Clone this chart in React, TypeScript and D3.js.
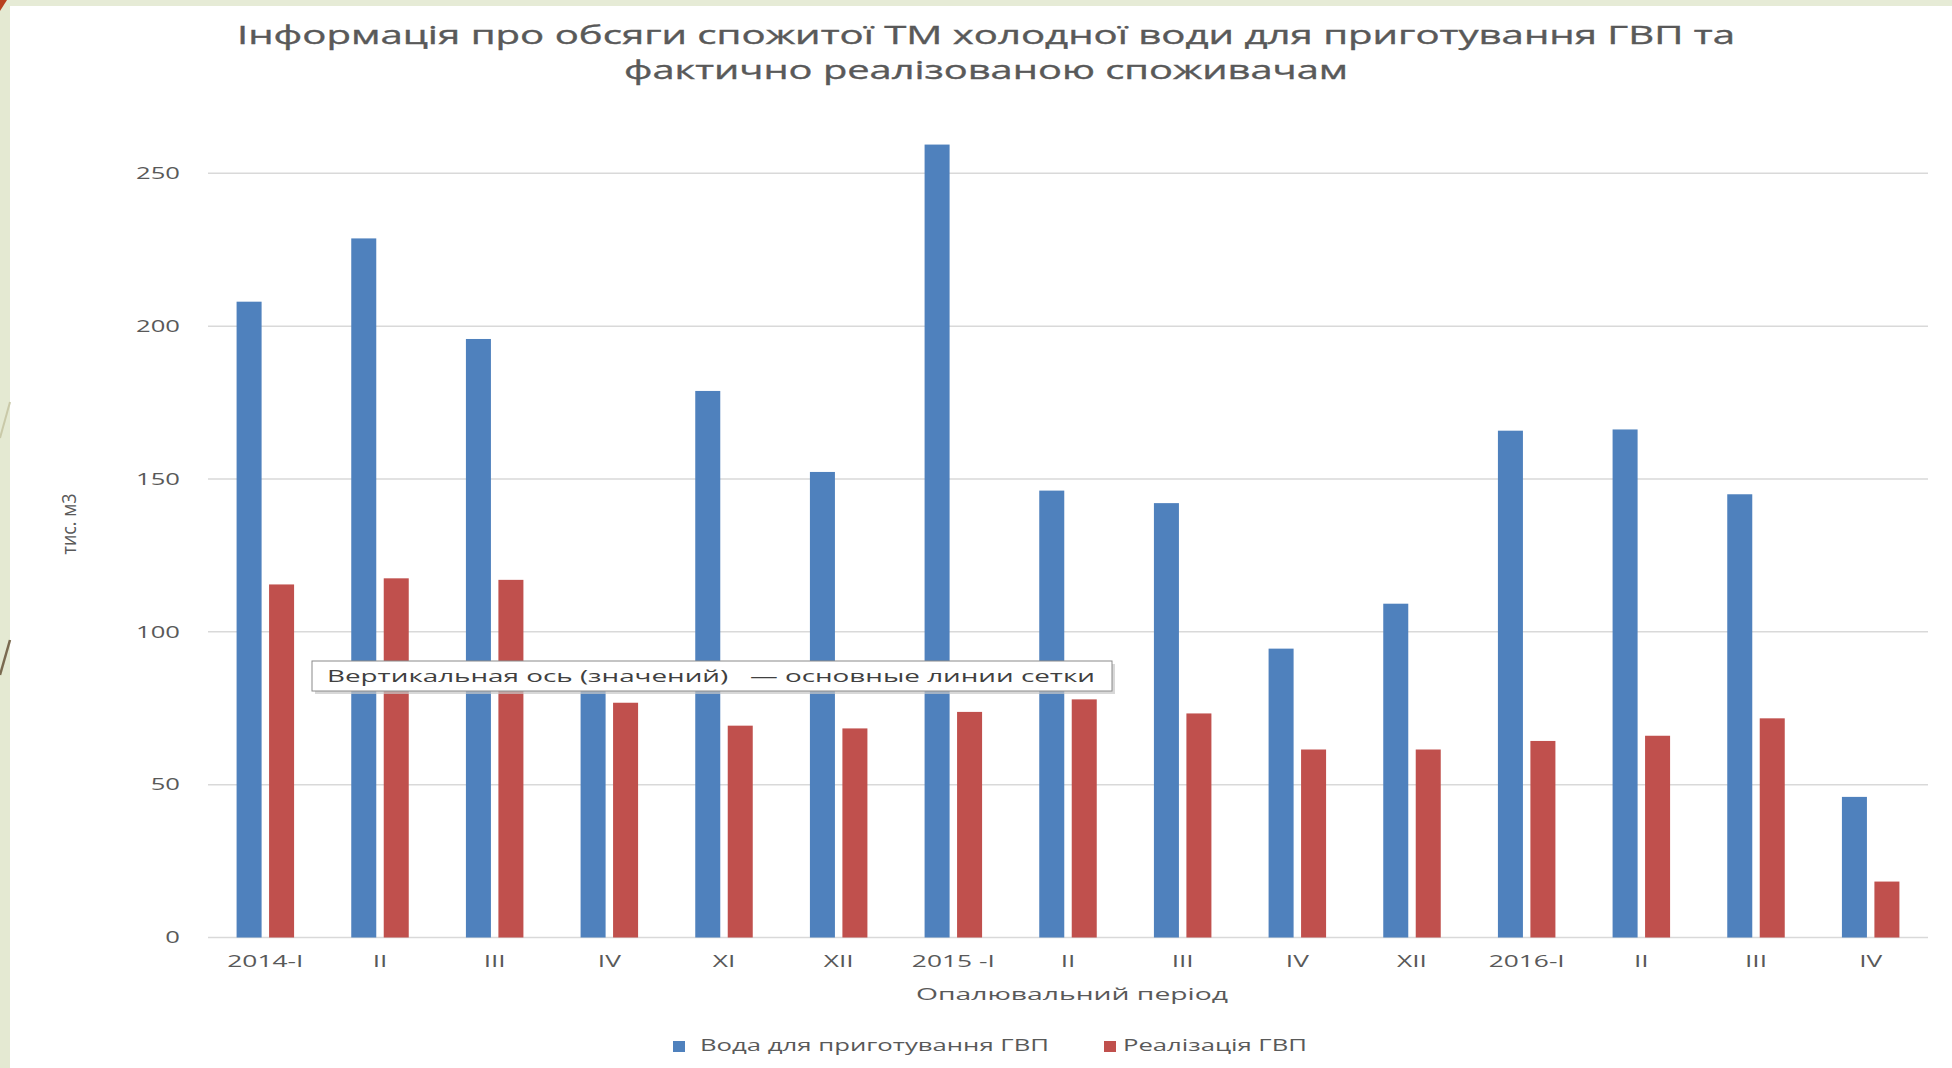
import React from "react";
import * as d3 from "d3";

const categories = ["2014-I", "II", "III", "IV", "XI", "XII", "2015 -I", "II ", "III ", "IV ", "XII ", "2016-I", "II  ", "III  ", "IV  "];
const waterForHotWater = [208, 228.7, 195.8, 86, 178.8, 152.3, 259.4, 146.2, 142.1, 94.5, 109.2, 165.8, 166.2, 145, 46];
const hotWaterSold = [115.5, 117.5, 117, 76.8, 69.3, 68.4, 73.8, 77.9, 73.3, 61.5, 61.5, 64.3, 66, 71.7, 18.3];
const seriesNames = ["Вода для приготування ГВП", "Реалізація ГВП"];
const yTicks = [0, 50, 100, 150, 200, 250];
const titleLines = [
  "Інформація про обсяги спожитої ТМ холодної води для приготування ГВП та",
  "фактично реалізованою споживачам",
];
const yAxisTitle = "тис. м3";
const xAxisTitle = "Опалювальний період";
const tooltipText = "Вертикальная ось (значений)   — основные линии сетки";

const W = 1952;
const H = 1068;
const FONT = "'Open Sans', 'Noto Sans', sans-serif";
const TEXT = "#595959";
const COLORS = ["#4f81bd", "#c0504d"];
const SX = 1.7;

export default function App() {
  const x0 = d3.scaleBand<string>().domain(categories.map((c, i) => i + "")).range([208, 1928]).padding(0);
  const x1 = d3.scaleBand<string>().domain(["a", "b"]).range([0, x0.bandwidth()]).paddingInner(0.23).paddingOuter(0.88);
  const y = d3.scaleLinear().domain([0, 250]).range([937.5, 173.3]);
  const series = [waterForHotWater, hotWaterSold];

  return (
    <svg width={W} height={H} style={{ position: "absolute", left: 0, top: 0, background: "#fff" }} fontFamily={FONT}>
      <rect x={0} y={0} width={W} height={H} fill="#ffffff" />
      {/* slide frame */}
      <rect x={0} y={0} width={W} height={6} fill="#e6ebd6" />
      <rect x={0} y={0} width={10} height={H} fill="#e4e9d2" />
      <polygon points="0,0 7,0 0,11" fill="#b8401e" />
      <line x1={0} y1={438} x2={10} y2={402} stroke="#c9c9a8" strokeWidth={2} />
      <line x1={0} y1={675} x2={10} y2={640} stroke="#7a6a50" strokeWidth={2.5} />

      {/* title */}
      {titleLines.map((t, i) => (
        <text key={i} x={986} y={44 + i * 35} textAnchor="middle" fontSize={25} fill={TEXT}
          stroke={TEXT} strokeWidth={0.35}
          textLength={i === 0 ? 1498 : 724} lengthAdjust="spacingAndGlyphs">{t}</text>
      ))}

      {/* gridlines */}
      {yTicks.map((t) => (
        <line key={t} x1={208} x2={1928} y1={y(t)} y2={y(t)} stroke="#d9d9d9" strokeWidth={1.5} />
      ))}
      {/* y tick labels */}
      {yTicks.map((t) => (
        <g key={"l" + t} transform={`translate(180,${y(t)}) scale(1.6,1)`}>
          <text x={0} y={0} dy="0.36em" textAnchor="end" fontSize={16} fill={TEXT}>{t}</text>
        </g>
      ))}

      {/* bars */}
      {categories.map((c, i) => (
        <g key={"c" + i} transform={`translate(${x0(i + "")},0)`}>
          {series.map((s, j) => (
            <rect key={j} x={x1(j === 0 ? "a" : "b")} y={y(s[i])} width={x1.bandwidth()} height={y(0) - y(s[i])} fill={COLORS[j]} />
          ))}
        </g>
      ))}

      {/* x labels */}
      {categories.map((c, i) => (
        <g key={"x" + i} transform={`translate(${(x0(i + "") as number) + x0.bandwidth() / 2},967) scale(${SX},1)`}>
          <text x={0} y={0} textAnchor="middle" fontSize={15.5} fill={TEXT}>{c.trim()}</text>
        </g>
      ))}

      {/* axis titles */}
      <text x={1072} y={1000} textAnchor="middle" fontSize={16.5} fill={TEXT} textLength={312} lengthAdjust="spacingAndGlyphs">{xAxisTitle}</text>
      <g transform={`translate(76,524) scale(1.5,1) rotate(-90)`}>
        <text x={0} y={0} textAnchor="middle" fontSize={13} fill={TEXT} textLength={61} lengthAdjust="spacingAndGlyphs">{yAxisTitle}</text>
      </g>

      {/* legend */}
      <rect x={673} y={1041} width={12} height={11} fill={COLORS[0]} />
      <text x={700} y={1051} fontSize={15.5} fill={TEXT} textLength={349} lengthAdjust="spacingAndGlyphs">{seriesNames[0]}</text>
      <rect x={1104} y={1041} width={12} height={11} fill={COLORS[1]} />
      <text x={1123} y={1051} fontSize={15.5} fill={TEXT} textLength={184} lengthAdjust="spacingAndGlyphs">{seriesNames[1]}</text>

      {/* tooltip */}
      <rect x={315} y={664} width={800} height={30} fill="#c8c8c8" opacity={0.7} />
      <rect x={312} y={661} width={800} height={30} fill="#ffffff" stroke="#8a8a8a" strokeWidth={1} />
      <text x={327} y={682} fontSize={15.5} fill="#404040" textLength={768} lengthAdjust="spacingAndGlyphs" xmlSpace="preserve">{tooltipText}</text>
    </svg>
  );
}
